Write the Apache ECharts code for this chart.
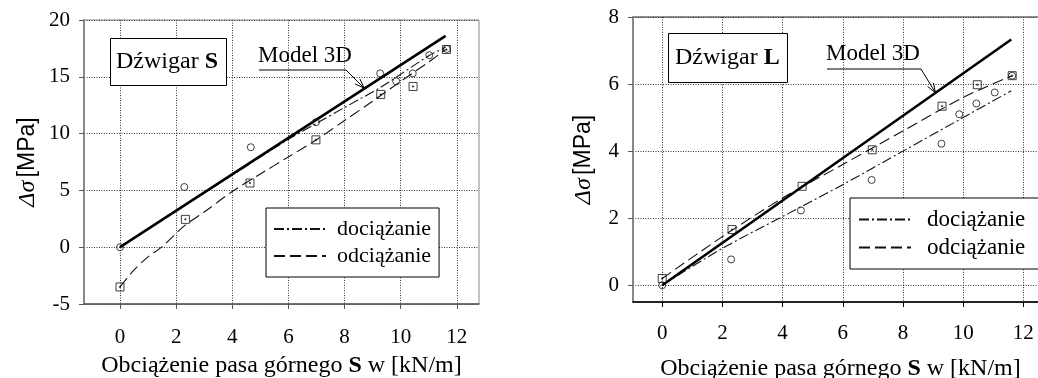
<!DOCTYPE html>
<html>
<head>
<meta charset="utf-8">
<script src="https://cdn.jsdelivr.net/npm/echarts@6/dist/echarts.min.js"></script>
<style>
  html, body { margin: 0; padding: 0; background: #fff; }
  #chart { width: 1038px; height: 378px; }
</style>
</head>
<body>
<div id="chart"></div>
<script>
// --- Dźwigar S: punkty pomiarowe ---
var sDocX = [0, 2.29, 4.66, 6.98, 9.27, 9.84, 10.43, 11.02, 11.64];
var sDocY = [0, 5.3, 8.8, 11.0, 15.3, 14.6, 15.3, 16.9, 17.45];
var sOdcX = [0, 2.33, 4.63, 6.98, 9.29, 10.44, 11.63];
var sOdcY = [-3.5, 2.45, 5.65, 9.45, 13.45, 14.15, 17.4];
// krzywe
var sModelX = [0, 11.6];
var sModelY = [0, 18.6];
var sDocFitX = [0, 2, 4, 6, 7, 8, 9.3, 11, 11.6];
var sDocFitY = [0, 3.2, 6.35, 9.5, 10.9, 12.3, 14.1, 16.85, 17.6];
var sOdcFitX = [0, 0.5, 1, 1.5, 2.3, 3, 4, 5, 6, 7, 8, 9, 10, 11, 11.6];
var sOdcFitY = [-3.5, -2.0, -0.85, 0.05, 1.9, 3.1, 4.9, 6.45, 7.95, 9.46, 11.15, 12.85, 14.6, 16.3, 17.4];

// --- Dźwigar L ---
var lDocX = [0, 2.29, 4.61, 6.96, 9.28, 9.87, 10.44, 11.05, 11.63];
var lDocY = [0, 0.77, 2.23, 3.14, 4.22, 5.1, 5.42, 5.75, 6.25];
var lOdcX = [0, 2.32, 4.65, 6.98, 9.3, 10.47, 11.63];
var lOdcY = [0.2, 1.66, 2.95, 4.04, 5.34, 5.98, 6.25];
var lModelX = [0, 11.6];
var lModelY = [0, 7.33];
var lDocFitX = [0, 2, 4, 6, 8, 10, 11.6];
var lDocFitY = [0, 1.1, 2.05, 3.0, 4.0, 5.0, 5.8];
var lOdcFitX = [0, 2, 4, 6, 8, 10, 11.63];
var lOdcFitY = [0.2, 1.45, 2.6, 3.6, 4.6, 5.6, 6.25];

// osie
var xTicks = [0, 2, 4, 6, 8, 10, 12];
var sYTicks = [-5, 0, 5, 10, 15, 20];
var lYTicks = [0, 2, 4, 6, 8];
var legendNames = ['dociążanie', 'odciążanie'];

// strzałki "Model 3D" (punkt na linii modelu)
var sArrowTip = [8.7, 14.0];
var lArrowTip = [9.08, 5.74];

function pairs(xs, ys) { return xs.map(function(x, i) { return [x, ys[i]]; }); }

var serif = 'Liberation Serif';
var sans = 'Liberation Sans';
var ink = '#000';
var markInk = '#111';
var dashDot = [10, 3, 2, 3];
var dashed = [11, 5];
var squarePath = 'path://M0,0L10,0L10,10L0,10Z M4.3,4.3L5.7,4.3L5.7,5.7L4.3,5.7Z';
var gridDots = { color: '#333', type: [1, 1.5], width: 1 };

function xAxisFor(idx, min, max, labelMargin, nameGap, lineColor) {
  return {
    gridIndex: idx, type: 'value', min: min, max: max,
    name: 'Obciążenie pasa górnego {b|S} w [kN/m]',
    nameLocation: 'middle', nameGap: nameGap,
    nameTextStyle: {
      fontFamily: serif, fontSize: 24, color: ink,
      rich: { b: { fontFamily: serif, fontSize: 24, fontWeight: 'bold', color: ink } }
    },
    axisLine: { show: true, onZero: false, lineStyle: { color: lineColor, width: 1.5 } },
    axisTick: { show: true, inside: false, length: 5, customValues: xTicks, lineStyle: { color: lineColor } },
    axisLabel: { customValues: xTicks, margin: labelMargin, fontFamily: serif, fontSize: 21, color: ink },
    splitLine: { show: true, lineStyle: gridDots }
  };
}

function yAxisFor(idx, min, max, ticks, nameGap, lineColor) {
  return {
    gridIndex: idx, type: 'value', min: min, max: max,
    name: '{i|Δσ} {s|[MPa]}',
    nameLocation: 'middle', nameGap: nameGap, nameRotate: 90,
    nameTextStyle: {
      rich: {
        i: { fontFamily: serif, fontStyle: 'italic', fontSize: 24, color: ink },
        s: { fontFamily: sans, fontSize: 23, color: ink }
      }
    },
    axisLine: { show: true, onZero: false, lineStyle: { color: lineColor, width: 2 } },
    axisTick: { show: true, inside: false, length: 5, customValues: ticks, lineStyle: { color: '#555' } },
    axisLabel: { customValues: ticks, margin: 14, fontFamily: serif, fontSize: 21, color: ink },
    splitLine: { show: true, lineStyle: gridDots }
  };
}

function seriesFor(idx, modelX, modelY, docFitX, docFitY, odcFitX, odcFitY, docX, docY, odcX, odcY) {
  return [
    { name: 'Model 3D', type: 'line', xAxisIndex: idx, yAxisIndex: idx, data: pairs(modelX, modelY),
      symbol: 'none', lineStyle: { color: ink, width: 2.6 }, z: 5 },
    { name: 'dociążanie', type: 'line', xAxisIndex: idx, yAxisIndex: idx, data: pairs(docFitX, docFitY),
      symbol: 'none', smooth: 0.3, lineStyle: { color: markInk, width: 1.1, type: dashDot }, z: 4 },
    { name: 'odciążanie', type: 'line', xAxisIndex: idx, yAxisIndex: idx, data: pairs(odcFitX, odcFitY),
      symbol: 'none', smooth: 0.3, lineStyle: { color: markInk, width: 1.1, type: dashed }, z: 4 },
    { name: 'pomiar dociążanie', type: 'scatter', xAxisIndex: idx, yAxisIndex: idx, data: pairs(docX, docY),
      symbol: 'circle', symbolSize: 7,
      itemStyle: { color: 'rgba(255,255,255,0)', borderColor: markInk, borderWidth: 1 }, z: 6 },
    { name: 'pomiar odciążanie', type: 'scatter', xAxisIndex: idx, yAxisIndex: idx, data: pairs(odcX, odcY),
      symbol: squarePath, symbolSize: 8,
      itemStyle: { color: 'rgba(255,255,255,0)', borderColor: markInk, borderWidth: 1 }, z: 6 }
  ];
}

function legendFor(left, top, fontSize, textGap, padding) {
  return {
    data: legendNames, orient: 'vertical', left: left, top: top,
    itemWidth: 52, itemHeight: 10, itemGap: 5, selectedMode: false,
    padding: padding, borderColor: ink, borderWidth: 1, backgroundColor: '#fff',
    itemStyle: { opacity: 0 },
    textStyle: { fontFamily: serif, fontSize: fontSize, color: ink, padding: [0, 0, 0, textGap] }
  };
}

function titleFor(letter, left, top, padding) {
  return {
    text: '{n|Dźwigar }{b|' + letter + '}', left: left, top: top,
    padding: padding, borderColor: ink, borderWidth: 1, backgroundColor: '#fff',
    textStyle: {
      fontWeight: 'normal',
      rich: {
        n: { fontFamily: serif, fontSize: 24, fontWeight: 'normal', color: ink },
        b: { fontFamily: serif, fontSize: 24, fontWeight: 'bold', color: ink }
      }
    }
  };
}

var chart = echarts.init(document.getElementById('chart'));
chart.setOption({
  animation: false,
  backgroundColor: '#fff',
  title: [titleFor('S', 110, 38, [12, 9, 12, 6]), titleFor('L', 668, 33, [13, 8, 13, 7])],
  legend: [
    legendFor(266, 208, 22, 6, [10, 8, 10, 7]),
    legendFor(850, 198, 23, 11, [10, 14, 10, 8])
  ],
  grid: [
    { left: 84, top: 20, width: 395, height: 284, outerBoundsMode: 'none', containLabel: false,
      show: true, borderColor: '#888', borderWidth: 1 },
    { left: 633, top: 17, right: -10, bottom: 76, outerBoundsMode: 'none', containLabel: false,
      show: true, borderColor: '#222', borderWidth: 1 }
  ],
  xAxis: [
    xAxisFor(0, -1.283, 12.79, 23, 50, '#555'),
    xAxisFor(1, -0.97, 12.82, 21, 55, '#000')
  ],
  yAxis: [
    yAxisFor(0, -5, 20, sYTicks, 44, '#888'),
    yAxisFor(1, -0.5, 8, lYTicks, 37, '#888')
  ],
  series: seriesFor(0, sModelX, sModelY, sDocFitX, sDocFitY, sOdcFitX, sOdcFitY, sDocX, sDocY, sOdcX, sOdcY)
    .concat(seriesFor(1, lModelX, lModelY, lDocFitX, lDocFitY, lOdcFitX, lOdcFitY, lDocX, lDocY, lOdcX, lOdcY))
});

// adnotacje "Model 3D" ze strzałką
function annotation(textX, textY, lineY, lineEndX, tip) {
  var dx = tip[0] - lineEndX, dy = tip[1] - lineY;
  var len = Math.sqrt(dx * dx + dy * dy);
  var ux = dx / len, uy = dy / len, head = 10, a = 0.35;
  var h1 = [tip[0] - head * (ux * Math.cos(a) - uy * Math.sin(a)), tip[1] - head * (uy * Math.cos(a) + ux * Math.sin(a))];
  var h2 = [tip[0] - head * (ux * Math.cos(-a) - uy * Math.sin(-a)), tip[1] - head * (uy * Math.cos(-a) + ux * Math.sin(-a))];
  return [
    { type: 'text', x: textX, y: textY, z: 10,
      style: { text: 'Model 3D', fontFamily: serif, fontSize: 23, fill: ink } },
    { type: 'polyline', z: 10,
      shape: { points: [[textX + 1, lineY], [lineEndX, lineY], tip] },
      style: { stroke: ink, lineWidth: 1, fill: null } },
    { type: 'polyline', z: 10,
      shape: { points: [h1, tip, h2] },
      style: { stroke: ink, lineWidth: 1, fill: null } }
  ];
}

var tipS = chart.convertToPixel({ gridIndex: 0 }, sArrowTip);
var tipL = chart.convertToPixel({ gridIndex: 1 }, lArrowTip);
chart.setOption({
  graphic: annotation(258, 44, 70, 346, tipS).concat(annotation(826, 42, 69, 921, tipL))
});
</script>
</body>
</html>
